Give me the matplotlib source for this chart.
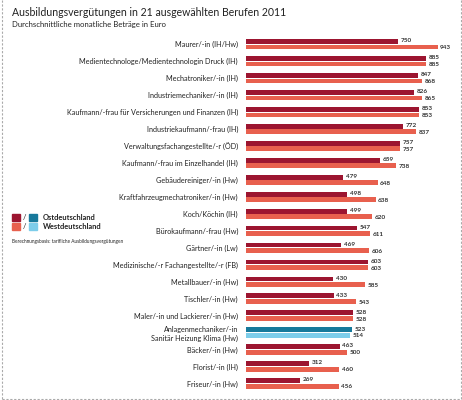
import matplotlib.pyplot as plt
from matplotlib.patches import Rectangle
from matplotlib.lines import Line2D

# data
berufe = [
    "Maurer/-in (IH/Hw)",
    "Medientechnologe/Medientechnologin Druck (IH)",
    "Mechatroniker/-in (IH)",
    "Industriemechaniker/-in (IH)",
    "Kaufmann/-frau für Versicherungen und Finanzen (IH)",
    "Industriekaufmann/-frau (IH)",
    "Verwaltungsfachangestellte/-r (ÖD)",
    "Kaufmann/-frau im Einzelhandel (IH)",
    "Gebäudereiniger/-in (Hw)",
    "Kraftfahrzeugmechatroniker/-in (Hw)",
    "Koch/Köchin (IH)",
    "Bürokaufmann/-frau (Hw)",
    "Gärtner/-in (Lw)",
    "Medizinische/-r Fachangestellte/-r (FB)",
    "Metallbauer/-in (Hw)",
    "Tischler/-in (Hw)",
    "Maler/-in und Lackierer/-in (Hw)",
    "Anlagenmechaniker/-in\nSanitär Heizung Klima (Hw)",
    "Bäcker/-in (Hw)",
    "Florist/-in (IH)",
    "Friseur/-in (Hw)",
]
ost = [750, 885, 847, 826, 853, 772, 757, 659, 479, 498, 499, 547, 469, 603,
       430, 433, 528, 523, 463, 312, 269]
west = [943, 885, 868, 865, 853, 837, 757, 738, 648, 638, 620, 611, 606, 603,
        585, 543, 528, 514, 500, 460, 456]
hervorgehoben = 17  # the one blue pair

ost_rot, west_rot = "#9c1530", "#e8604e"
ost_blau, west_blau = "#17799b", "#7dcdea"

plt.rcParams['font.family'] = ['Lato', 'DejaVu Sans']

fig = plt.figure(figsize=(4.62, 4.0), dpi=100)
W, H = 462, 400

# axes placed so that group 0 sits at y=44 px, group 20 at y=383 px
left_px, right_px = 245.7, 461
top_px, bot_px = 34.1, 393.7
ax = fig.add_axes([left_px / W, 1 - bot_px / H, (right_px - left_px) / W, (bot_px - top_px) / H])
ax.set_xlim(0, (right_px - left_px) / 0.2036)
ax.set_ylim(20.6, -0.6)

y = list(range(len(berufe)))
h, off = 0.285, 0.165
c_ost = [ost_blau if i == hervorgehoben else ost_rot for i in y]
c_west = [west_blau if i == hervorgehoben else west_rot for i in y]
ax.barh([i - off for i in y], ost, height=h, color=c_ost)
ax.barh([i + off for i in y], west, height=h, color=c_west)

for i in y:
    ax.annotate(str(ost[i]), (ost[i], i - off), xytext=(1.8, 0.6), textcoords='offset points',
                va='center', ha='left', fontsize=4.6, fontweight='bold', color='#333333')
    ax.annotate(str(west[i]), (west[i], i + off), xytext=(1.8, -0.4), textcoords='offset points',
                va='center', ha='left', fontsize=4.6, fontweight='bold', color='#333333')

ax.set_yticks(y)
ax.set_yticklabels(berufe, fontsize=5.2, color='#222222')
ax.tick_params(axis='y', length=0, pad=5.5)
ax.set_xticks([])
for s in ax.spines.values():
    s.set_visible(False)

# title and subtitle
fig.text(12 / W, 1 - 12 / H, "Ausbildungsvergütungen in 21 ausgewählten Berufen 2011",
         fontsize=7.6, color='#222222', va='center', ha='left')
fig.text(12 / W, 1 - 25 / H, "Durchschnittliche monatliche Beträge in Euro",
         fontsize=5.6, color='#222222', va='center', ha='left')

# legend drawn by hand
for yy, c1, c2, txt in [(217.5, ost_rot, ost_blau, "Ostdeutschland"),
                         (226.5, west_rot, west_blau, "Westdeutschland")]:
    fig.patches.append(Rectangle((12 / W, 1 - (yy + 3.3) / H), 7.5 / W, 6.6 / H,
                                 transform=fig.transFigure, color=c1))
    fig.patches.append(Rectangle((29 / W, 1 - (yy + 3.3) / H), 7.5 / W, 6.6 / H,
                                 transform=fig.transFigure, color=c2))
    fig.text(24.5 / W, 1 - yy / H, "/", fontsize=5.5, va='center', ha='center', color='#222222')
    fig.text(43 / W, 1 - yy / H, txt, fontsize=5.4, fontweight='bold', va='center',
             ha='left', color='#222222')
fig.text(12 / W, 1 - 241 / H, "Berechnungsbasis: tarifliche Ausbildungsvergütungen",
         fontsize=3.4, va='center', ha='left', color='#222222')

# dashed frame
for xs, ys in [([2, 2], [0, 399]), ([460.5, 460.5], [0, 399]), ([2, 460.5], [399, 399])]:
    fig.lines.append(Line2D([x / W for x in xs], [1 - v / H for v in ys], transform=fig.transFigure,
                            color='#aaaaaa', lw=0.8, ls=(0, (2, 1.5))))

fig.savefig("out.png", dpi=100)
